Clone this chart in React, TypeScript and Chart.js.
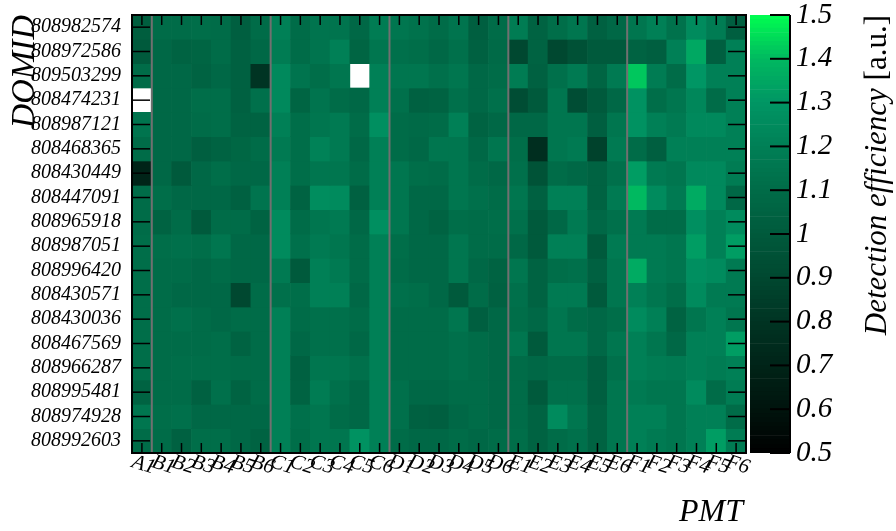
import React, { useEffect, useRef } from "react";
import { Chart, registerables } from "chart.js";

Chart.register(...registerables);

// DOM identifiers, top row first
const domIds = [
  "808982574", "808972586", "809503299", "808474231", "808987121", "808468365",
  "808430449", "808447091", "808965918", "808987051", "808996420", "808430571",
  "808430036", "808467569", "808966287", "808995481", "808974928", "808992603",
];

// PMT positions along the x axis
const pmtLabels = [
  "A1",
  "B1", "B2", "B3", "B4", "B5", "B6",
  "C1", "C2", "C3", "C4", "C5", "C6",
  "D1", "D2", "D3", "D4", "D5", "D6",
  "E1", "E2", "E3", "E4", "E5", "E6",
  "F1", "F2", "F3", "F4", "F5", "F6",
];

// Detection efficiency per DOM (row) and PMT (column); null = out of range, left blank
//                  A1     B1    B2    B3    B4    B5    B6    C1    C2    C3    C4    C5    C6    D1    D2    D3    D4    D5    D6    E1    E2    E3    E4    E5    E6    F1    F2    F3    F4    F5    F6
const efficiency: (number | null)[][] = [
  /* 808982574 */ [1.02, 1.10, 1.10, 1.11, 1.10, 1.03, 1.10, 1.20, 1.10, 1.14, 1.14, 1.08, 1.18, 1.15, 1.13, 1.10, 1.14, 1.03, 1.10, 1.18, 1.05, 1.11, 1.15, 1.04, 1.08, 1.15, 1.20, 1.13, 1.25, 1.18, 1.03],
  /* 808972586 */ [1.00, 1.08, 1.05, 1.06, 1.10, 1.04, 1.08, 1.18, 1.10, 1.14, 1.20, 1.06, 1.15, 1.12, 1.11, 1.08, 1.12, 1.04, 1.09, 0.90, 1.05, 0.90, 0.95, 1.00, 1.00, 1.05, 1.03, 1.20, 1.35, 1.03, 1.20],
  /* 809503299 */ [1.10, 1.08, 1.08, 1.05, 1.08, 1.04, 0.80, 1.24, 1.14, 1.11, 1.15, null, 1.20, 1.15, 1.15, 1.12, 1.15, 1.08, 1.10, 1.18, 1.04, 1.12, 1.17, 1.06, 1.17, 1.42, 1.18, 1.10, 1.30, 1.20, 1.20],
  /* 808474231 */ [null, 1.08, 1.08, 1.11, 1.11, 1.04, 1.12, 1.24, 1.06, 1.14, 1.10, 1.08, 1.20, 1.12, 1.04, 1.05, 1.12, 1.08, 1.12, 0.93, 1.00, 1.15, 0.93, 1.00, 1.08, 1.28, 1.11, 1.15, 1.23, 1.10, 1.20],
  /* 808987121 */ [1.14, 1.08, 1.08, 1.10, 1.11, 1.05, 1.05, 1.20, 1.11, 1.15, 1.17, 1.10, 1.27, 1.10, 1.09, 1.10, 1.20, 1.05, 1.08, 1.08, 1.08, 1.15, 1.15, 1.03, 1.15, 1.28, 1.20, 1.17, 1.24, 1.24, 1.20],
  /* 808468365 */ [1.10, 1.08, 1.08, 1.03, 1.05, 1.07, 1.10, 1.17, 1.11, 1.21, 1.17, 1.08, 1.20, 1.10, 1.08, 1.15, 1.15, 1.08, 1.15, 1.11, 0.76, 1.15, 1.17, 0.87, 1.17, 1.10, 1.03, 1.20, 1.20, 1.20, 1.20],
  /* 808430449 */ [0.70, 1.08, 1.00, 1.08, 1.11, 1.08, 1.08, 1.20, 1.11, 1.15, 1.15, 1.10, 1.20, 1.15, 1.11, 1.10, 1.15, 1.10, 1.08, 1.12, 0.96, 1.10, 1.08, 1.05, 1.12, 1.32, 1.17, 1.15, 1.24, 1.24, 1.18],
  /* 808447091 */ [1.10, 1.11, 1.08, 1.08, 1.08, 1.04, 1.14, 1.20, 1.05, 1.26, 1.25, 1.04, 1.20, 1.15, 1.08, 1.08, 1.15, 1.12, 1.10, 1.15, 1.04, 1.20, 1.20, 1.05, 1.17, 1.40, 1.25, 1.17, 1.36, 1.24, 1.08],
  /* 808965918 */ [1.10, 1.05, 1.10, 1.00, 1.10, 1.10, 1.05, 1.25, 1.10, 1.15, 1.17, 1.08, 1.27, 1.15, 1.08, 1.05, 1.11, 1.10, 1.11, 1.12, 1.00, 1.08, 1.17, 1.08, 1.12, 1.17, 1.10, 1.10, 1.27, 1.20, 1.25],
  /* 808987051 */ [1.11, 1.11, 1.12, 1.11, 1.15, 1.08, 1.08, 1.25, 1.12, 1.17, 1.15, 1.10, 1.20, 1.11, 1.08, 1.08, 1.15, 1.10, 1.10, 1.08, 1.00, 1.20, 1.20, 1.00, 1.17, 1.17, 1.17, 1.15, 1.32, 1.20, 1.32],
  /* 808996420 */ [1.11, 1.10, 1.10, 1.08, 1.10, 1.08, 1.08, 1.17, 1.00, 1.20, 1.17, 1.10, 1.20, 1.10, 1.08, 1.08, 1.15, 1.08, 1.05, 1.15, 1.05, 1.11, 1.12, 1.04, 1.15, 1.36, 1.17, 1.15, 1.27, 1.25, 1.17],
  /* 808430571 */ [1.11, 1.10, 1.08, 1.08, 1.08, 0.90, 1.10, 1.12, 1.11, 1.20, 1.20, 1.08, 1.20, 1.12, 1.11, 1.08, 1.00, 1.10, 1.04, 1.12, 1.05, 1.17, 1.17, 1.00, 1.15, 1.20, 1.15, 1.11, 1.25, 1.17, 1.17],
  /* 808430036 */ [1.11, 1.10, 1.12, 1.10, 1.08, 1.10, 1.10, 1.20, 1.10, 1.12, 1.12, 1.10, 1.20, 1.10, 1.10, 1.10, 1.15, 1.03, 1.08, 1.11, 1.08, 1.15, 1.10, 1.08, 1.11, 1.25, 1.20, 1.05, 1.15, 1.20, 1.15],
  /* 808467569 */ [1.11, 1.10, 1.10, 1.10, 1.11, 1.05, 1.10, 1.20, 1.08, 1.12, 1.12, 1.08, 1.20, 1.10, 1.10, 1.10, 1.12, 1.10, 1.08, 1.15, 1.00, 1.15, 1.15, 1.08, 1.15, 1.20, 1.15, 1.08, 1.20, 1.20, 1.32],
  /* 808966287 */ [1.11, 1.10, 1.11, 1.11, 1.11, 1.10, 1.10, 1.20, 1.04, 1.15, 1.15, 1.12, 1.20, 1.10, 1.10, 1.10, 1.12, 1.10, 1.08, 1.10, 1.08, 1.10, 1.10, 1.03, 1.12, 1.20, 1.18, 1.17, 1.20, 1.18, 1.20],
  /* 808995481 */ [1.05, 1.10, 1.10, 1.04, 1.12, 1.05, 1.10, 1.20, 1.05, 1.18, 1.12, 1.08, 1.20, 1.12, 1.08, 1.08, 1.10, 1.10, 1.08, 1.10, 1.00, 1.12, 1.12, 1.03, 1.15, 1.17, 1.15, 1.15, 1.25, 1.10, 1.18],
  /* 808974928 */ [1.15, 1.11, 1.12, 1.08, 1.08, 1.08, 1.08, 1.20, 1.12, 1.15, 1.10, 1.08, 1.20, 1.12, 1.04, 1.03, 1.08, 1.10, 1.08, 1.10, 1.05, 1.25, 1.15, 1.05, 1.15, 1.20, 1.20, 1.15, 1.20, 1.20, 1.10],
  /* 808992603 */ [1.10, 1.10, 1.04, 1.11, 1.11, 1.08, 1.05, 1.20, 1.11, 1.15, 1.15, 1.28, 1.20, 1.10, 1.08, 1.08, 1.10, 1.08, 1.10, 1.11, 1.05, 1.10, 1.12, 1.05, 1.15, 1.20, 1.17, 1.15, 1.20, 1.32, 1.18],
];

// Colour scale range and its labelled values
const Z_MIN = 0.5;
const Z_MAX = 1.5;
const colorTicks = [0.5, 0.6, 0.7, 0.8, 0.9, 1.0, 1.1, 1.2, 1.3, 1.4, 1.5];

// Index of the last PMT of each ring (A1, B6, C6, D6, E6); a separator follows each
const ringEnds = [0, 6, 12, 18, 24];

const SERIF = '"Liberation Serif", "Times New Roman", serif';

// black -> dark green -> bright green palette: [value, r, g, b]
const palette: [number, number, number, number][] = [
  [0.5, 0, 0, 0],
  [0.6, 0, 20, 13],
  [0.7, 0, 36, 24],
  [0.8, 0, 52, 35],
  [0.9, 0, 72, 48],
  [1.0, 0, 90, 60],
  [1.1, 0, 108, 72],
  [1.2, 0, 128, 86],
  [1.3, 0, 150, 100],
  [1.4, 0, 185, 96],
  [1.5, 0, 255, 80],
];

function colorFor(v: number): string {
  const t = Math.min(Z_MAX, Math.max(Z_MIN, v));
  for (let i = 1; i < palette.length; i++) {
    const [v1, r1, g1, b1] = palette[i];
    const [v0, r0, g0, b0] = palette[i - 1];
    if (t <= v1 + 1e-9) {
      const f = (t - v0) / (v1 - v0);
      const r = Math.round(r0 + (r1 - r0) * f);
      const g = Math.round(g0 + (g1 - g0) * f);
      const b = Math.round(b0 + (b1 - b0) * f);
      return `rgb(${r},${g},${b})`;
    }
  }
  const last = palette[palette.length - 1];
  return `rgb(${last[1]},${last[2]},${last[3]})`;
}

function line(ctx: CanvasRenderingContext2D, x1: number, y1: number, x2: number, y2: number) {
  ctx.beginPath();
  ctx.moveTo(x1, y1);
  ctx.lineTo(x2, y2);
  ctx.stroke();
}

// Frame, ring separators, inner ticks, rotated PMT labels and axis titles
const heatmapDecor = {
  id: "heatmapDecor",
  afterDraw(chart: any) {
    const { ctx, chartArea: a, scales } = chart;
    const xs = scales.x;
    const ys = scales.y;
    ctx.save();

    ctx.strokeStyle = "#707070";
    ctx.lineWidth = 2;
    for (const i of ringEnds) {
      const x = (xs.getPixelForValue(i) + xs.getPixelForValue(i + 1)) / 2;
      line(ctx, x, a.top, x, a.bottom);
    }

    ctx.strokeStyle = "#000";
    ctx.lineWidth = 1.5;
    pmtLabels.forEach((_, i) => {
      const x = xs.getPixelForValue(i);
      line(ctx, x, a.top, x, a.top + 10);
      line(ctx, x, a.bottom - 10, x, a.bottom);
    });
    domIds.forEach((_, r) => {
      const y = ys.getPixelForValue(r);
      line(ctx, a.left, y, a.left + 18, y);
      line(ctx, a.right - 18, y, a.right, y);
    });

    ctx.lineWidth = 2;
    ctx.strokeRect(a.left, a.top, a.right - a.left, a.bottom - a.top);

    // PMT labels, slanted
    ctx.fillStyle = "#000";
    ctx.font = `italic 21px ${SERIF}`;
    ctx.textAlign = "center";
    ctx.textBaseline = "top";
    pmtLabels.forEach((lab, i) => {
      const x = xs.getPixelForValue(i);
      ctx.save();
      ctx.translate(x + 5, a.bottom + 2);
      ctx.rotate((18 * Math.PI) / 180);
      ctx.fillText(lab, 0, 0);
      ctx.restore();
    });

    // axis titles
    ctx.font = `italic 32px ${SERIF}`;
    ctx.textBaseline = "alphabetic";
    ctx.textAlign = "right";
    ctx.fillText("PMT", a.right - 3, 521);

    ctx.save();
    ctx.translate(34, a.top);
    ctx.rotate(-Math.PI / 2);
    ctx.textAlign = "right";
    ctx.font = `italic 34px ${SERIF}`;
    ctx.fillText("DOMID", 0, 0);
    ctx.restore();

    ctx.restore();
  },
};

// Colour bar axis line, inward ticks and title
const colorBarDecor = {
  id: "colorBarDecor",
  afterDraw(chart: any) {
    const { ctx, chartArea: a, scales } = chart;
    const ys = scales.y;
    ctx.save();
    ctx.strokeStyle = "#000";
    ctx.lineWidth = 2;
    line(ctx, a.right, a.top, a.right, a.bottom);
    colorTicks.forEach((v) => {
      const y = ys.getPixelForValue(v);
      line(ctx, a.right - 20, y, a.right, y);
    });

    ctx.fillStyle = "#000";
    ctx.textBaseline = "alphabetic";
    ctx.textAlign = "right";
    ctx.translate(146, a.top);
    ctx.rotate(-Math.PI / 2);
    ctx.font = `31px ${SERIF}`;
    const unit = " [a.u.]";
    ctx.fillText(unit, 0, 0);
    const w = ctx.measureText(unit).width;
    ctx.font = `italic 31px ${SERIF}`;
    ctx.fillText("Detection efficiency", -w, 0);
    ctx.restore();
  },
};

const N_BANDS = 100;

export default function App() {
  const mainRef = useRef<HTMLCanvasElement>(null);
  const barRef = useRef<HTMLCanvasElement>(null);

  useEffect(() => {
    const datasets = domIds.map((id, r) => ({
      label: id,
      data: pmtLabels.map((_, c) => (efficiency[r][c] == null ? null : [r - 0.5, r + 0.5])),
      backgroundColor: pmtLabels.map((_, c) => {
        const v = efficiency[r][c];
        return v == null ? "rgba(0,0,0,0)" : colorFor(v);
      }),
      borderWidth: 0,
      grouped: false,
      barPercentage: 1,
      categoryPercentage: 1,
    }));

    const main = new Chart(mainRef.current!, {
      type: "bar",
      data: { labels: pmtLabels, datasets: datasets as any },
      options: {
        responsive: false,
        animation: false,
        events: [],
        layout: { padding: { left: 0, top: 15, right: 150, bottom: 0 } },
        plugins: { legend: { display: false }, tooltip: { enabled: false } },
        scales: {
          x: {
            type: "category",
            offset: true,
            grid: { display: false, drawTicks: false },
            border: { display: false },
            ticks: { display: false },
            afterFit(s: any) {
              s.height = 78;
              s.paddingLeft = 0;
              s.paddingRight = 0;
            },
          },
          y: {
            type: "linear",
            min: -0.5,
            max: 17.5,
            reverse: true,
            afterBuildTicks(s: any) {
              s.ticks = domIds.map((_, i) => ({ value: i }));
            },
            ticks: {
              autoSkip: false,
              padding: 11,
              color: "#000",
              font: { family: SERIF, style: "italic", size: 20 },
              callback: (v: any) => domIds[Math.round(Number(v))] ?? "",
            },
            grid: { display: false, drawTicks: false },
            border: { display: false },
            afterFit(s: any) {
              s.width = 132;
              s.paddingTop = 0;
              s.paddingBottom = 0;
            },
          },
        },
      },
      plugins: [heatmapDecor],
    });

    const step = (Z_MAX - Z_MIN) / N_BANDS;
    const bands = Array.from({ length: N_BANDS }, (_, k) => ({
      data: [[Z_MIN + k * step, Z_MIN + (k + 1) * step]],
      backgroundColor: colorFor(Z_MIN + (k + 0.5) * step),
      borderWidth: 0,
      grouped: false,
      barPercentage: 1,
      categoryPercentage: 1,
    }));

    const bar = new Chart(barRef.current!, {
      type: "bar",
      data: { labels: [""], datasets: bands as any },
      options: {
        responsive: false,
        animation: false,
        events: [],
        layout: { padding: { left: 10, top: 15, right: 0, bottom: 78 } },
        plugins: { legend: { display: false }, tooltip: { enabled: false } },
        scales: {
          x: { display: false, offset: true },
          y: {
            type: "linear",
            position: "right",
            min: Z_MIN,
            max: Z_MAX,
            afterBuildTicks(s: any) {
              s.ticks = colorTicks.map((v) => ({ value: v }));
            },
            ticks: {
              autoSkip: false,
              padding: 6,
              color: "#000",
              font: { family: SERIF, style: "italic", size: 29 },
              callback: (v: any) => String(parseFloat(Number(v).toFixed(1))),
            },
            grid: { display: false, drawTicks: false },
            border: { display: false },
            afterFit(s: any) {
              s.width = 106;
              s.paddingTop = 0;
              s.paddingBottom = 0;
            },
          },
        },
      },
      plugins: [colorBarDecor],
    });

    return () => {
      main.destroy();
      bar.destroy();
    };
  }, []);

  return (
    <div style={{ position: "absolute", left: 0, top: 0, width: 896, height: 531, background: "#fff" }}>
      <canvas ref={mainRef} width={896} height={531} style={{ position: "absolute", left: 0, top: 0 }} />
      <canvas ref={barRef} width={156} height={531} style={{ position: "absolute", left: 740, top: 0 }} />
    </div>
  );
}
